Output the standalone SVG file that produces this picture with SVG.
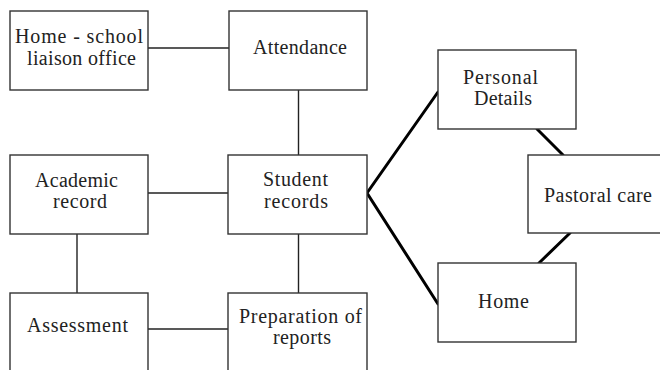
<svg xmlns="http://www.w3.org/2000/svg" width="660" height="370" viewBox="0 0 660 370">
<style>
.box{fill:#fff;stroke:#333;stroke-width:1.4}
.t{font-family:"Liberation Serif","Times New Roman",serif;font-size:20px;fill:#222}
.ln{stroke:#222;stroke-width:1.4;fill:none}
.th{stroke:#000;stroke-width:3;fill:none;stroke-linecap:round}
</style>
<rect width="660" height="370" fill="#fff"/>
<g id="connectors">
<line class="ln" x1="148" y1="48" x2="229" y2="48"/>
<line class="ln" x1="298.5" y1="90" x2="298.5" y2="155"/>
<line class="ln" x1="148" y1="193" x2="228" y2="193"/>
<line class="ln" x1="77" y1="234" x2="77" y2="293"/>
<line class="ln" x1="298.5" y1="234" x2="298.5" y2="293"/>
<line class="ln" x1="148" y1="329" x2="228" y2="329"/>
<polyline class="th" points="438,92 367,193 438,304"/>
<line class="th" x1="537" y1="129" x2="563" y2="155"/>
<line class="th" x1="570" y1="233" x2="539" y2="263"/>
</g>
<g id="home-school">
<rect class="box" x="10" y="11" width="138" height="79"/>
<text class="t" x="15" y="43" textLength="128">Home - school</text>
<text class="t" x="27" y="65" textLength="109">liaison office</text>
</g>
<g id="attendance">
<rect class="box" x="229" y="11" width="138" height="79"/>
<text class="t" x="253" y="54" textLength="94">Attendance</text>
</g>
<g id="academic">
<rect class="box" x="10" y="155" width="138" height="79"/>
<text class="t" x="35" y="187" textLength="83">Academic</text>
<text class="t" x="53" y="208" textLength="54">record</text>
</g>
<g id="student">
<rect class="box" x="228" y="155" width="139" height="79"/>
<text class="t" x="263" y="186" textLength="65">Student</text>
<text class="t" x="264" y="208" textLength="64">records</text>
</g>
<g id="assessment">
<rect class="box" x="10" y="293" width="138" height="90"/>
<text class="t" x="27" y="332" textLength="101">Assessment</text>
</g>
<g id="preparation">
<rect class="box" x="228" y="293" width="139" height="90"/>
<text class="t" x="239" y="323" textLength="123">Preparation of</text>
<text class="t" x="273" y="344" textLength="58">reports</text>
</g>
<g id="personal">
<rect class="box" x="438" y="50" width="138" height="79"/>
<text class="t" x="463" y="84" textLength="75">Personal</text>
<text class="t" x="474" y="105" textLength="58">Details</text>
</g>
<g id="pastoral">
<rect class="box" x="528" y="155" width="150" height="78"/>
<text class="t" x="544" y="202" textLength="108">Pastoral care</text>
</g>
<g id="home">
<rect class="box" x="438" y="263" width="138" height="79"/>
<text class="t" x="478" y="308" textLength="51">Home</text>
</g>
</svg>
